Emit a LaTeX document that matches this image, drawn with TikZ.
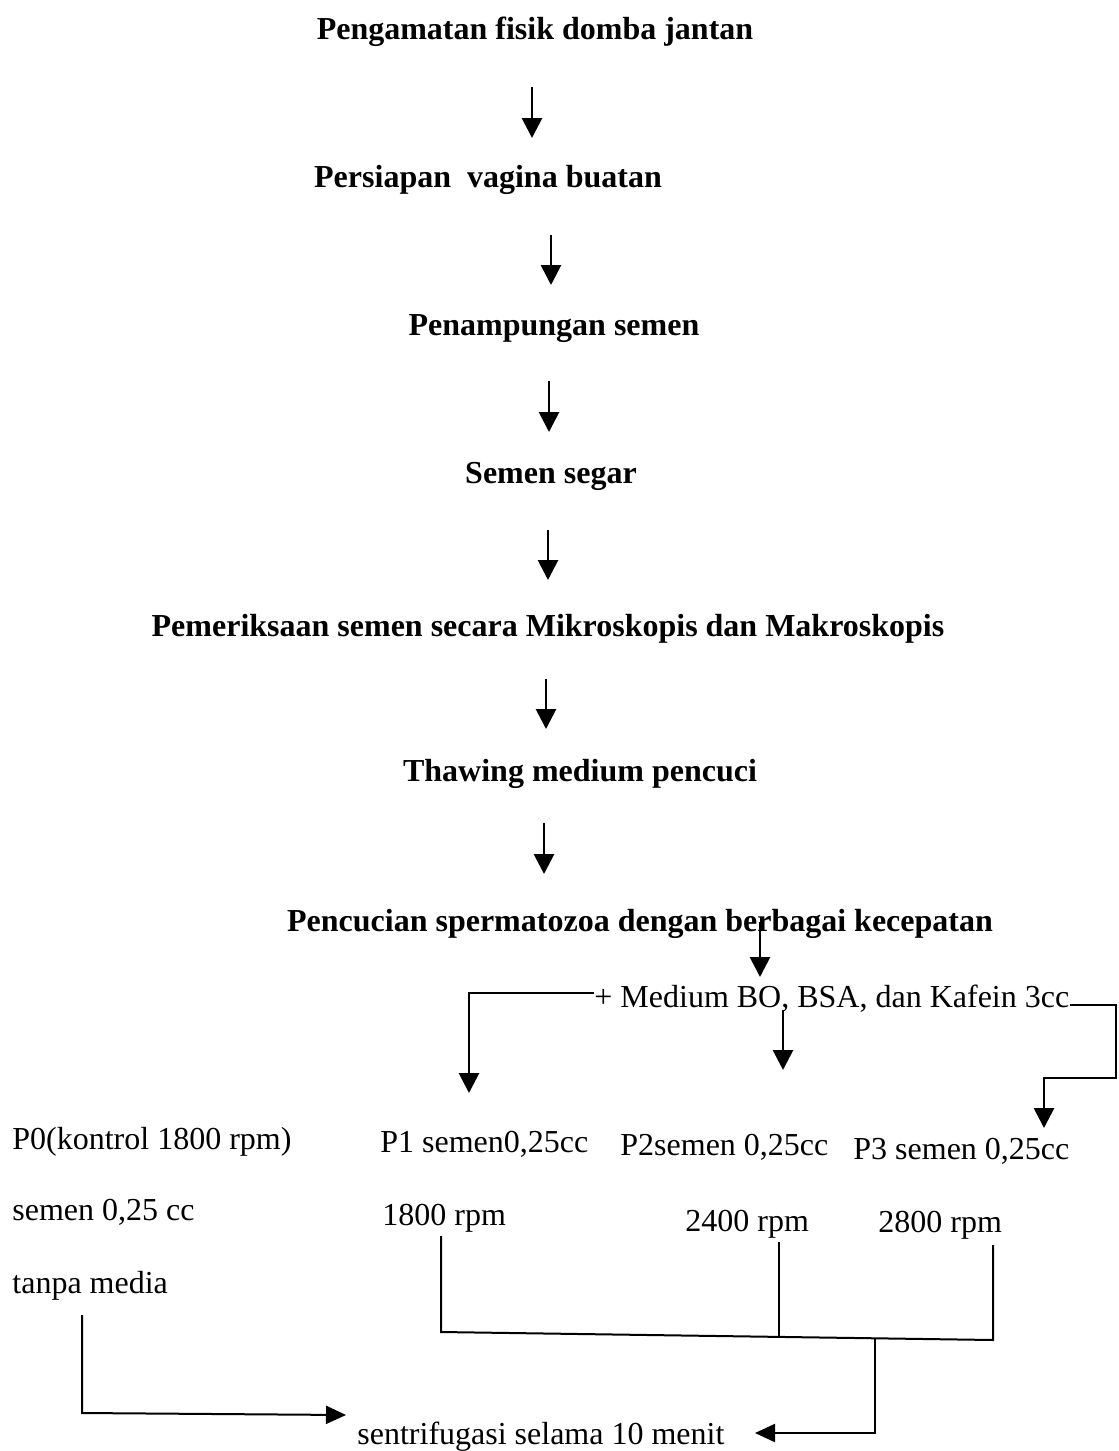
\documentclass[tikz,border=0pt]{standalone}
\usepackage{fontspec}
\setmainfont{Liberation Serif}
\usetikzlibrary{arrows.meta}
\begin{document}
\begin{tikzpicture}[x=0.5pt,y=-0.5pt,
  head/.style={font=\fontsize{16}{19}\selectfont\bfseries, inner sep=0pt, anchor=center},
  lbl/.style={font=\fontsize{16}{19}\selectfont, inner sep=0pt, anchor=west},
  arr/.style={line width=1.4pt, -{Triangle[length=10pt,width=10pt]}},
  ln/.style={line width=1pt},
  larr/.style={line width=1pt, -{Triangle[length=10pt,width=9pt]}}]
\useasboundingbox[fill=white] (0,0) rectangle (1119,1451);
% headings
\node[head] (h1) at (535,32) {Pengamatan fisik domba jantan};
\node[head] (h2) at (488,180) {Persiapan\ \ vagina buatan};
\node[head] (h3) at (554,329) {Penampungan semen};
\node[head] (h4) at (551,476) {Semen segar};
\node[head] (h5) at (548,629) {Pemeriksaan semen secara Mikroskopis dan Makroskopis};
\node[head] (h6) at (580,774) {Thawing medium pencuci};
\node[head] (h7) at (640,924) {Pencucian spermatozoa dengan berbagai kecepatan};
% medium
\node[lbl] (med) at (594,999) {+ Medium BO, BSA, dan Kafein 3cc};
% row labels
\node[lbl] (p0) at (12,1142) {P0(kontrol 1800 rpm)};
\node[lbl] (p1) at (380,1144) {P1 semen0,25cc};
\node[lbl] (p2) at (620,1147) {P2semen 0,25cc};
\node[lbl] (p3) at (853,1151) {P3 semen 0,25cc};
\node[lbl] (s0) at (12,1212) {semen 0,25 cc};
\node[lbl] (r1) at (382,1218) {1800 rpm};
\node[lbl] (r2) at (685,1224) {2400 rpm};
\node[lbl] (r3) at (878,1225) {2800 rpm};
\node[lbl] (t0) at (12,1286) {tanpa media};
\node[lbl] (sent) at (357,1437) {sentrifugasi selama 10 menit};
% connector end points
\coordinate (c1) at (875,1338);
\coordinate (c2) at (875,1433);
\coordinate (c3) at (755,1433);
\coordinate (d1) at (82,1315);
\coordinate (d2) at (82,1413);
\coordinate (d3) at (346,1415);
% main chain arrows
\draw[arr] (532,87) -- (532,138);
\draw[arr] (551,235) -- (551,285);
\draw[arr] (549,381) -- (549,432);
\draw[arr] (548,530) -- (548,580);
\draw[arr] (546,679) -- (546,729);
\draw[arr] (544,823) -- (544,874);
\draw[arr] (760,922) -- (760,977);
% branches
\draw[arr] (med.west |- 0,993) -- (469,993) -- (469,1093);
\draw[arr] (783,1010) -- (783,1070);
\draw[arr] (med.east |- 0,1005) -- (1116,1005) -- (1116,1078) -- (1044,1078) -- (1044,1128);
% lower connectors
\draw[ln] (441,1236) -- (441,1332) -- (993,1340) -- (993,1245);
\draw[ln] (779,1242) -- (779,1337);
\draw[larr] (c1) -- (c2) -- (c3);
\draw[larr] (d1) -- (d2) -- (d3);
\end{tikzpicture}
\end{document}
